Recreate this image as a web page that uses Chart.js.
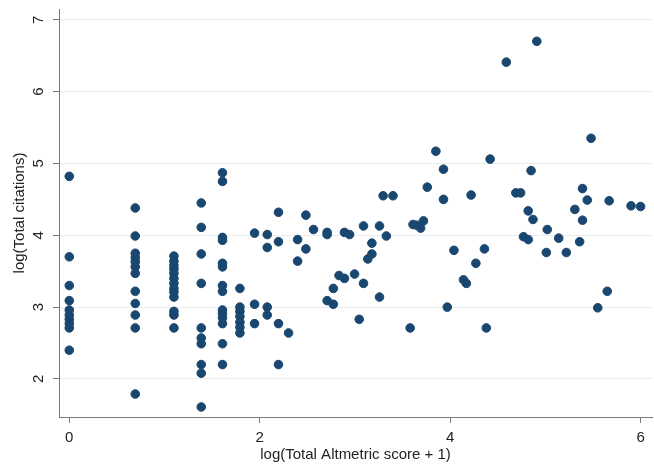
<!DOCTYPE html>
<html>
<head>
<meta charset="utf-8">
<script src="https://cdn.jsdelivr.net/npm/chart.js@4.4.1/dist/chart.umd.min.js"></script>
<style>
  html, body { margin: 0; padding: 0; background: #fff; }
  #wrap { width: 654px; height: 464px; }
</style>
</head>
<body>
<div id="wrap"><canvas id="scatterChart"></canvas></div>
<script>
// log(Total Altmetric score + 1), one entry per article
const altmetricLog = [
    0, 0, 0, 0, 0, 0, 0, 0, 0, 0,
    0.693, 0.693, 0.693, 0.693, 0.693, 0.693, 0.693, 0.693, 0.693, 0.693, 0.693, 0.693,
    1.099, 1.099, 1.099, 1.099, 1.099, 1.099, 1.099, 1.099, 1.099, 1.099, 1.099, 1.099, 1.099,
    1.386, 1.386, 1.386, 1.386, 1.386, 1.386, 1.386, 1.386, 1.386, 1.386,
    1.609, 1.609, 1.609, 1.609, 1.609, 1.609, 1.609, 1.609, 1.609, 1.609, 1.609, 1.609, 1.609, 1.609,
    1.792, 1.792, 1.792, 1.792, 1.792, 1.792, 1.792,
    1.946, 1.946, 1.946,
    2.079, 2.079, 2.079, 2.079,
    2.197, 2.197, 2.197, 2.197,
    2.303,
    2.398, 2.398,
    2.485, 2.485,
    2.565,
    2.708, 2.708, 2.708,
    2.773, 2.773,
    2.833, 2.89, 2.89, 2.944, 2.996, 3.045,
    3.09, 3.09, 3.135, 3.178, 3.178,
    3.258, 3.258, 3.296, 3.33, 3.40,
    3.58, 3.61, 3.65, 3.69, 3.72, 3.76, 3.85,
    3.93, 3.93, 3.97, 4.04, 4.14, 4.17, 4.22, 4.27, 4.36, 4.38, 4.42,
    4.59, 4.69, 4.74, 4.77, 4.82, 4.82, 4.87, 4.85, 4.91,
    5.02, 5.01, 5.14, 5.22, 5.31, 5.36, 5.39, 5.39, 5.44, 5.48,
    5.55, 5.65, 5.67, 5.90, 6.00
];

// log(Total citations), same order as above
const citationsLog = [
    4.82, 3.70, 3.30, 3.09, 2.96, 2.89, 2.83, 2.77, 2.71, 2.40,
    4.38, 3.99, 3.75, 3.69, 3.63, 3.56, 3.47, 3.22, 3.05, 2.89, 2.71, 1.79,
    3.71, 3.64, 3.58, 3.53, 3.47, 3.40, 3.33, 3.26, 3.21, 3.14, 2.94, 2.89, 2.71,
    4.45, 4.11, 3.74, 3.33, 2.71, 2.57, 2.49, 2.20, 2.08, 1.61,
    4.87, 4.75, 3.97, 3.93, 3.61, 3.56, 3.30, 3.22, 2.96, 2.91, 2.85, 2.77, 2.49, 2.20,
    3.26, 3.00, 2.94, 2.87, 2.79, 2.72, 2.64,
    4.03, 3.04, 2.77,
    4.01, 3.83, 3.00, 2.89,
    4.32, 3.91, 2.77, 2.20,
    2.64,
    3.94, 3.64,
    4.28, 3.81,
    4.08,
    4.04, 4.01, 3.09,
    3.26, 3.04,
    3.44, 4.04, 3.40, 4.01, 3.46, 2.83,
    4.13, 3.33, 3.67, 3.74, 3.89,
    4.13, 3.14, 4.55, 3.99, 4.55,
    2.71, 4.15, 4.14, 4.10, 4.20, 4.67, 5.17,
    4.92, 4.50, 3.00, 3.79, 3.38, 3.33, 4.56, 3.61, 3.81, 2.71, 5.06,
    6.41, 4.59, 4.59, 3.98, 3.94, 4.34, 4.22, 4.90, 6.70,
    4.08, 3.76, 3.96, 3.76, 4.36, 3.91, 4.65, 4.21, 4.49, 5.35,
    2.99, 3.22, 4.48, 4.41, 4.40
];

const xTickValues = [0, 2, 4, 6];
const yTickValues = [2, 3, 4, 5, 6, 7];

const points = altmetricLog.map((x, i) => ({ x: x, y: citationsLog[i] }));

const fontFamily = '"Liberation Sans", Arial, sans-serif';
const axisGray = '#7a7a7a';
const textColor = '#222';

const ctx = document.getElementById('scatterChart').getContext('2d');
new Chart(ctx, {
    type: 'scatter',
    data: {
        datasets: [{
            data: points,
            backgroundColor: '#1a476f',
            borderColor: '#1a476f',
            borderWidth: 1,
            pointRadius: 4.3,
            pointHoverRadius: 4.3
        }]
    },
    options: {
        responsive: true,
        maintainAspectRatio: false,
        animation: false,
        layout: {
            autoPadding: false, // no extra room for the marker radius
            padding: { top: 9, right: 2, left: 0, bottom: 0 }
        },
        plugins: {
            legend: { display: false },
            tooltip: { enabled: false }
        },
        scales: {
            x: {
                type: 'linear',
                min: -0.108,
                max: 6.12,
                afterBuildTicks: (scale) => { scale.ticks = xTickValues.map(v => ({ value: v })); },
                afterFit: (scale) => {
                    scale.height = 47;
                    scale.paddingLeft = 0;
                    scale.paddingRight = 0;
                },
                grid: {
                    drawOnChartArea: false,
                    tickLength: 6,
                    tickColor: axisGray
                },
                border: { color: axisGray, width: 1 },
                ticks: {
                    padding: 6,
                    color: textColor,
                    font: { family: fontFamily, size: 15 }
                },
                title: {
                    display: true,
                    text: 'log(Total Altmetric score + 1)',
                    color: textColor,
                    padding: { top: 0, bottom: 0 },
                    font: { family: fontFamily, size: 15 }
                }
            },
            y: {
                type: 'linear',
                min: 1.47,
                max: 7.15,
                afterBuildTicks: (scale) => { scale.ticks = yTickValues.map(v => ({ value: v })); },
                afterFit: (scale) => {
                    scale.width = 59;
                    scale.paddingTop = 0;
                    scale.paddingBottom = 0;
                },
                grid: {
                    color: '#e6eef1',
                    lineWidth: 1,
                    tickLength: 6,
                    tickColor: axisGray
                },
                border: { color: axisGray, width: 1 },
                ticks: {
                    minRotation: 90,
                    maxRotation: 90,
                    crossAlign: 'center',
                    padding: 10,
                    color: textColor,
                    font: { family: fontFamily, size: 15 }
                },
                title: {
                    display: true,
                    text: 'log(Total citations)',
                    color: textColor,
                    padding: { top: 11, bottom: 0 },
                    font: { family: fontFamily, size: 15 }
                }
            }
        }
    }
});
</script>
</body>
</html>
